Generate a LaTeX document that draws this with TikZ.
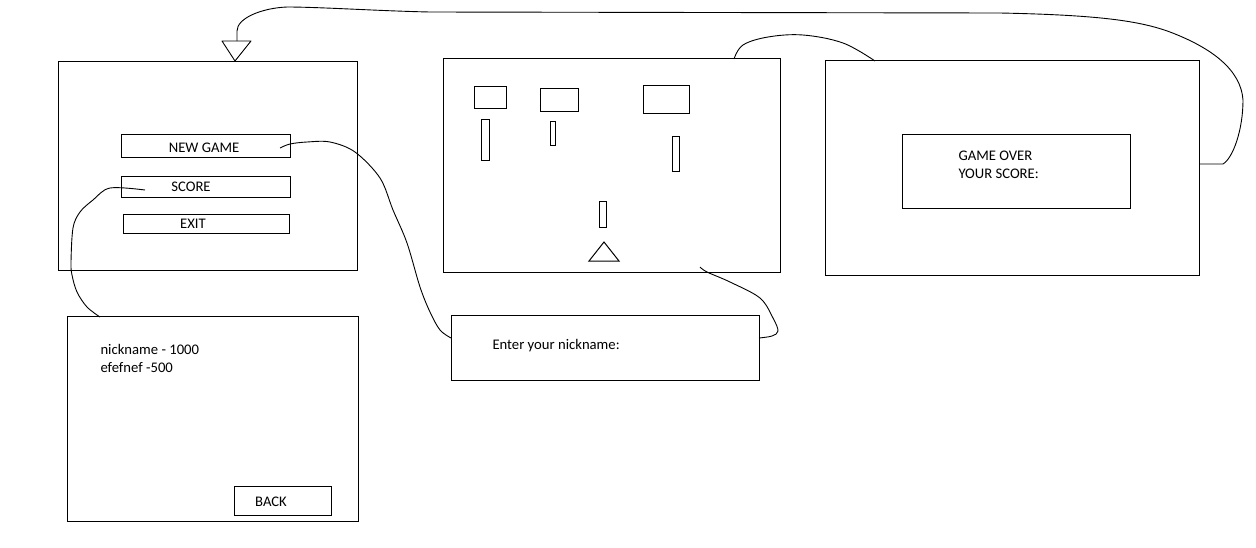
\documentclass[tikz,border=0pt]{standalone}
\usepackage{fontspec}
\setmainfont{Carlito}
\begin{document}
\begin{tikzpicture}[x=1pt,y=-1pt,line width=1pt,
  box/.style={draw,inner sep=0pt,outer sep=0pt},
  lbl/.style={inner sep=0pt,anchor=base,font=\fontsize{14.67}{18}\selectfont},
  lbll/.style={inner sep=0pt,anchor=base west,font=\fontsize{14.67}{18}\selectfont},
  wire/.style={line width=0.9pt,line join=round}]
\useasboundingbox (0,0) rectangle (1256,547);
% screens
\node[box,minimum width=299pt,minimum height=209pt] (menu) at (207.5,165.5) {};
\node[box,minimum width=169pt,minimum height=23pt] (bnew) at (205.5,145.5) {};
\node[box,minimum width=169pt,minimum height=21pt] (bscore) at (205.5,186.5) {};
\node[box,minimum width=166pt,minimum height=19pt] (bexit) at (206,223.5) {};
\node[lbl] (tnew) at (204,152) {NEW GAME};
\node[lbl] (tscore) at (191,191) {SCORE};
\node[lbl] (texit) at (193,228) {EXIT};

\node[box,minimum width=291pt,minimum height=205pt] (scores) at (212.5,418.5) {};
\node[lbll] (s1) at (100,354) {nickname - 1000};
\node[lbll] (s2) at (100,372) {efefnef -500};
\node[box,minimum width=97pt,minimum height=29pt] (back) at (282.5,500.5) {};
\node[lbl] (tback) at (271,506) {BACK};

\node[box,minimum width=337pt,minimum height=214pt] (game) at (611.5,165) {};
\draw (474,86) rectangle (506,108);
\draw (540,88) rectangle (578,111);
\draw (643,85) rectangle (689,113);
\draw (481,119) rectangle (489,160);
\draw (550,121) rectangle (555,145);
\draw (672,136) rectangle (679,171);
\draw (599,201) rectangle (606,227);
\draw (589,261) -- (604,242) -- (619,261) -- cycle;

\node[box,minimum width=374pt,minimum height=215pt] (over) at (1012,167.5) {};
\node[box,minimum width=228pt,minimum height=74pt] (overin) at (1016,171) {};
\node[lbll] (go1) at (958,160) {GAME OVER};
\node[lbll] (go2) at (958,178) {YOUR SCORE:};

\node[box,minimum width=308pt,minimum height=65pt] (nick) at (605,347.5) {};
\node[lbll] (tnick) at (492,349) {Enter your nickname:};

% connector end points
\coordinate (c1s) at (280,148);
\coordinate (c1e) at (451,338);
\coordinate (c2s) at (145,190);
\coordinate (c2e) at (100,317);
\coordinate (c3s) at (700,267);
\coordinate (c3e) at (759,338);
\coordinate (c4s) at (734,59);
\coordinate (c4e) at (875,61);
\coordinate (c5s) at (1199,164);
\coordinate (c5e) at (237,41);

% connectors
\draw[wire] plot[smooth,tension=0.55] coordinates {(c1s) (290,144) (307,142) (330,142) (355,152) (380,178) (393,210) (407,243) (420,287) (430,312) (440,330) (c1e)};
\draw[wire] plot[smooth,tension=0.55] coordinates {(c2s) (110,188) (93,200) (80,212) (73,228) (71,262) (72,275) (77,292) (87,307) (c2e)};
\draw[wire] plot[smooth,tension=0.55] coordinates {(c3s) (707,272) (730,282) (760,298) (773,318) (778,331) (772,336) (c3e)};
\draw[wire] plot[smooth,tension=0.6] coordinates {(c4s) (743,45) (768,37) (803,35) (843,43) (c4e)};
\draw[wire] (c5s) -- (1223,164)
  .. controls (1233,158) and (1243,130) .. (1243,100)
  .. controls (1241,70) and (1212,48) .. (1170,32)
  .. controls (1140,21) and (1100,15) .. (1000,13)
  -- (430,12)
  .. controls (380,11) and (320,7) .. (287,7)
  .. controls (262,8) and (237,18) .. (237,31)
  -- (c5e);
\draw[wire] (222,41) -- (251,41) -- (235,61) -- cycle;
\end{tikzpicture}
\end{document}
